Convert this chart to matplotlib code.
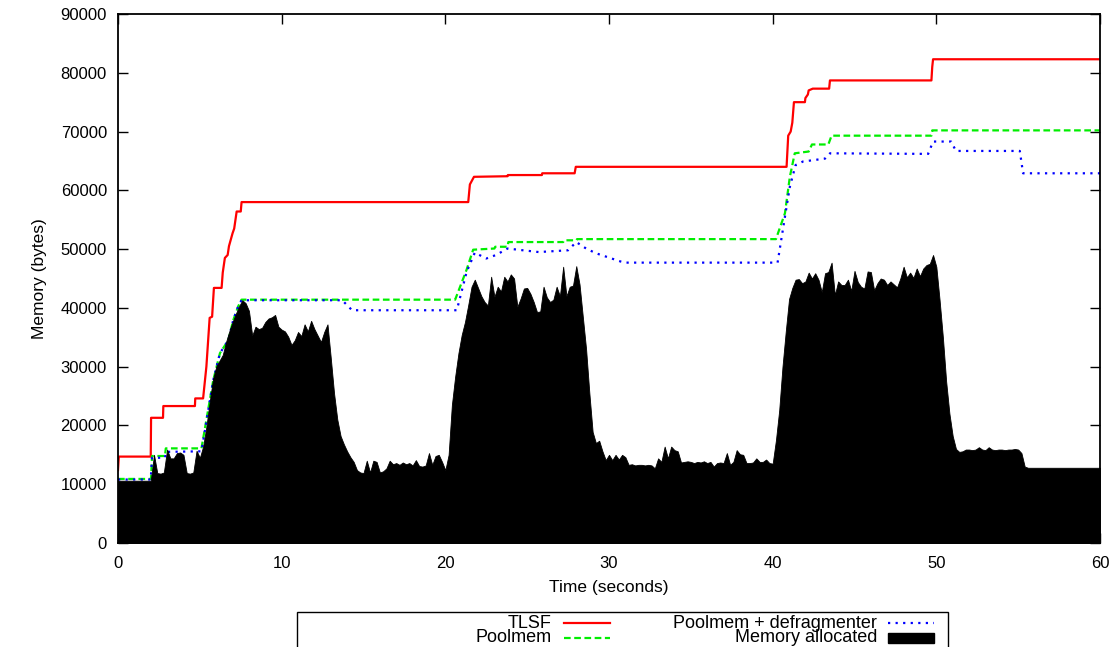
import numpy as np
import matplotlib
matplotlib.use('Agg')
import matplotlib.pyplot as plt
from matplotlib.lines import Line2D
from matplotlib.patches import Rectangle

plt.rcParams['font.family'] = ['Liberation Sans', 'DejaVu Sans']

# --- TLSF (czas, bajty) ---
tlsf_t = [0, 0.05, 2.0, 2.02, 2.75, 2.77, 4.7, 4.72, 5.2, 5.4, 5.6, 5.75, 5.86, 6.33, 6.4,
          6.53, 6.7, 6.78, 7.0, 7.1, 7.25, 7.5, 7.55, 21.4, 21.5, 21.75, 23.8, 23.82, 25.9,
          25.92, 27.9, 27.97, 40.85, 40.95, 41.1, 41.2, 41.3, 41.97, 42.0, 42.15, 42.2, 42.45,
          43.45, 43.5, 49.7, 49.75, 49.8, 60]
tlsf_v = [12400, 14700, 14700, 21300, 21300, 23300, 23300, 24600, 24600, 30000, 38300, 38500,
          43400, 43400, 46000, 48500, 49000, 50500, 52700, 53500, 56400, 56400, 58000, 58000,
          61000, 62300, 62400, 62600, 62600, 62900, 62900, 64000, 64000, 69300, 70000, 71500,
          75000, 75000, 75700, 76300, 77000, 77300, 77300, 78700, 78700, 81000, 82300, 82300]

# --- Poolmem ---
pool_t = [0, 2.02, 2.08, 2.87, 2.92, 5.1, 5.82, 6.23, 6.74, 7.04, 7.35, 7.55, 20.6, 21.3, 21.7,
          23.0, 23.05, 23.8, 23.85, 27.2, 27.25, 28.0, 28.05, 40.2, 40.75, 41.05, 41.35, 42.2,
          42.4, 43.4, 43.6, 49.7, 49.75, 60]
pool_v = [10900, 10900, 14800, 14800, 16100, 16100, 27700, 32300, 34500, 37900, 40300, 41400,
          41400, 46500, 49900, 50100, 50400, 50400, 51200, 51200, 51500, 51500, 51700, 51700,
          56100, 62300, 66300, 66600, 67800, 67800, 69300, 69300, 70200, 70200]

# --- Poolmem + defragmenter ---
defrag_t = [0, 2.0, 2.08, 2.87, 2.92, 5.1, 5.82, 6.23, 6.74, 7.04, 7.35, 7.55, 13.7, 14.3, 20.7,
            21.3, 21.8, 22.5, 23.1, 23.8, 25.7, 27.5, 28.0, 28.6, 29.2, 30.7, 31.0, 40.3, 40.75,
            41.05, 41.4, 41.85, 43.2, 43.5, 49.5, 49.8, 50.9, 51.2, 55.1, 55.3, 60]
defrag_v = [10800, 10800, 14500, 14500, 15500, 15600, 27700, 32300, 34500, 37900, 40300, 41300,
            41300, 39600, 39600, 46100, 49400, 48400, 49000, 50100, 49500, 49800, 51200, 50100,
            49300, 47900, 47700, 47700, 55500, 60600, 64300, 64900, 65400, 66300, 66200, 68300,
            68300, 66700, 66700, 62900, 62900]

# --- Memory allocated (tys. bajtow, co 0.2 s) ---
mem_k = [
    10.6, 10.6, 10.6, 10.6, 10.6,  10.6, 10.6, 10.6, 10.6, 10.6,
    10.6, 15.0, 11.9, 11.8, 12.0,  15.9, 14.4, 14.4, 15.3, 15.4,
    15.0, 11.9, 11.8, 12.0, 15.7,  14.5, 16.4, 19.8, 24.0, 27.8,
    30.0, 31.0, 32.0, 34.2, 36.0,  37.6, 39.0, 40.3, 41.3, 40.8,
    39.5, 35.3, 36.8, 36.4, 36.6,  37.6, 38.2, 38.4, 38.8, 36.8,
    36.3, 36.0, 35.1, 33.7, 34.5,  35.9, 35.2, 37.2, 36.0, 37.8,
    36.4, 35.3, 34.2, 35.9, 37.2,  31.5, 25.5, 21.0, 18.2, 16.8,
    15.6, 14.6, 13.8, 12.4, 12.0,  11.9, 14.0, 12.0, 14.0, 13.8,
    12.0, 12.2, 12.7, 14.0, 13.4,  13.6, 13.3, 13.7, 13.4, 13.6,
    13.2, 14.1, 13.1, 13.0, 13.2,  15.3, 13.3, 14.8, 15.0, 13.8,
    12.4, 15.0, 23.5, 28.3, 32.3,  35.4, 37.6, 40.5, 43.6, 44.8,
    43.4, 42.0, 41.0, 40.4, 45.3,  41.9, 43.6, 42.8, 45.3, 44.5,
    45.7, 45.0, 40.2, 41.6, 43.3,  43.4, 42.4, 41.0, 39.3, 39.4,
    43.6, 41.8, 41.0, 41.4, 43.6,  42.0, 47.0, 42.0, 43.6, 43.8,
    47.1, 44.0, 38.5, 33.0, 25.5,  18.9, 17.0, 17.4, 15.6, 14.1,
    15.0, 14.1, 15.0, 14.2, 15.0,  14.6, 13.3, 13.4, 13.2, 13.3,
    13.3, 13.2, 13.3, 13.2, 12.7,  14.4, 13.8, 16.4, 14.4, 16.4,
    15.8, 15.6, 13.7, 13.8, 13.9,  13.8, 13.6, 13.8, 13.7, 13.9,
    13.6, 13.8, 13.0, 13.6, 13.7,  13.6, 15.3, 13.3, 13.8, 15.8,
    15.1, 15.0, 13.6, 13.6, 13.7,  14.4, 13.8, 13.8, 14.2, 13.6,
    13.5, 17.5, 22.6, 30.0, 36.0,  41.5, 43.4, 44.8, 44.9, 44.2,
    44.5, 46.0, 45.0, 45.9, 44.8,  42.7, 45.9, 46.1, 47.7, 42.2,
    44.5, 43.9, 43.9, 44.8, 42.9,  46.3, 44.4, 43.6, 43.3, 46.2,
    46.1, 43.0, 44.2, 45.0, 44.8,  43.9, 44.5, 44.0, 43.5, 45.0,
    47.0, 45.2, 46.0, 45.1, 46.7,  45.4, 46.7, 47.3, 47.5, 49.0,
    47.0, 41.3, 35.0, 27.5, 22.0,  18.2, 16.0, 15.5, 15.6, 15.9,
    15.9, 15.8, 15.9, 16.3, 15.9,  15.8, 16.3, 15.9, 15.8, 15.9,
    15.9, 15.8, 15.9, 15.9, 16.0,  15.9, 15.3, 13.0, 12.8, 12.8,
    12.8, 12.8, 12.8, 12.8, 12.8,  12.8, 12.8, 12.8, 12.8, 12.8,
    12.8, 12.8, 12.8, 12.8, 12.8,  12.8, 12.8, 12.8, 12.8, 12.8,
]
mem_v = np.array(mem_k) * 1000
mem_t = np.arange(len(mem_v)) * 0.2

fig = plt.figure(figsize=(11.17, 6.47), dpi=100)
ax = fig.add_axes([118 / 1117, 1 - 543 / 647, (1100 - 118) / 1117, (543 - 14) / 647])

ax.plot(tlsf_t, tlsf_v, color='#ff0000', lw=1.6, zorder=2)
ax.plot(pool_t, pool_v, color='#00ee00', lw=1.6, linestyle=(0, (3, 1.6)), zorder=2)
ax.plot(defrag_t, defrag_v, color='#0000ff', lw=1.6, linestyle=(0, (1, 2.4)), zorder=2)
# pole rysowane na koncu, jak w gnuplocie
ax.fill_between(np.append(mem_t, 60), np.append(mem_v, mem_v[-1]),
                color='black', lw=0.6, ec='black', zorder=3)

ax.set_xlim(0, 60)
ax.set_ylim(0, 90000)
ax.set_xticks(range(0, 61, 10))
ax.set_yticks(range(0, 90001, 10000))
ax.tick_params(direction='in', length=7, width=1, top=True, right=True, labelsize=12)
ax.tick_params(axis='x', pad=9)
ax.tick_params(axis='y', pad=8)
for sp in ax.spines.values():
    sp.set_linewidth(1.3)
ax.set_xlabel("Time (seconds)", fontsize=12.5, labelpad=7)
ax.set_ylabel("Memory (bytes)", fontsize=12.5, labelpad=10)

# --- Legenda w stylu gnuplota (tekst do prawej, probka po prawej) ---
W, H = 1117, 647
fs_key = 13
fig.patches.append(Rectangle((297 / W, 1 - 660 / H), (948 - 297) / W, (660 - 612) / H,
                             transform=fig.transFigure, fill=False, lw=1.0, ec='black'))
entries = [
    ("TLSF", 552, 564, 623, dict(color='#ff0000', lw=1.6)),
    ("Poolmem", 552, 564, 638, dict(color='#00ee00', lw=1.6, linestyle=(0, (3, 1.6)))),
    ("Poolmem + defragmenter", 877, 888, 623, dict(color='#0000ff', lw=1.6, linestyle=(0, (1, 2.4)))),
]
for label, tx, lx, ly, style in entries:
    fig.text(tx / W, 1 - ly / H, label, ha='right', va='center', fontsize=fs_key)
    fig.lines.append(Line2D([lx / W, (lx + 46) / W], [1 - ly / H, 1 - ly / H],
                            transform=fig.transFigure, **style))
fig.text(877 / W, 1 - 638 / H, "Memory allocated", ha='right', va='center', fontsize=fs_key)
fig.patches.append(Rectangle((888 / W, 1 - 643 / H), 46 / W, 10 / H,
                             transform=fig.transFigure, color='black'))

fig.savefig('out.png', dpi=100)
